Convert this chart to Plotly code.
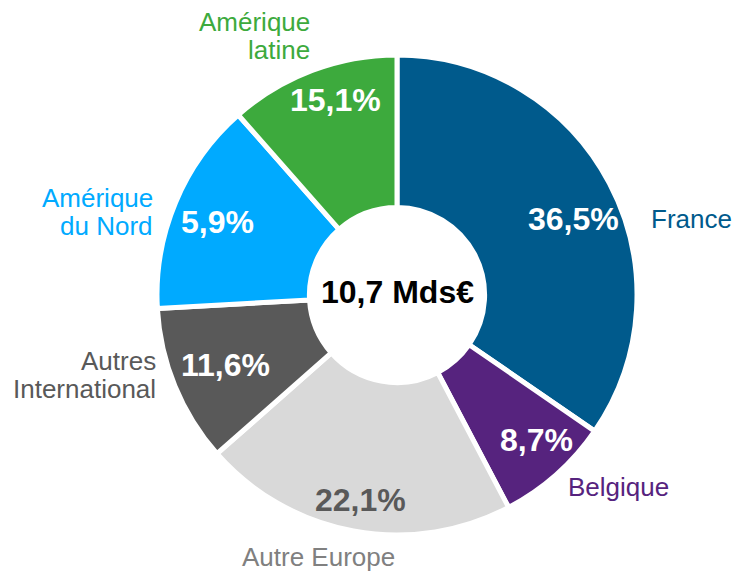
import plotly.graph_objects as go

# Slice sizes as drawn (degrees, converted to %)
regions = ["France", "Belgique", "Autre Europe", "Autres International",
           "Amérique du Nord", "Amérique latine"]
shares = [34.6, 7.7, 21.2, 10.6, 14.4, 11.5]
# Percentages printed on the slices
pct_labels = ["36,5%", "8,7%", "22,1%", "11,6%", "5,9%", "15,1%"]
name_labels = ["France", "Belgique", "Autre Europe", "Autres<br>International",
               "Amérique<br>du Nord", "Amérique<br>latine"]
total_label = "10,7 Mds€"

colors = ["#005A8C", "#56237E", "#D9D9D9", "#595959", "#00AAFF", "#3DAA3D"]
pct_colors = ["white", "white", "#595959", "white", "white", "white"]
name_colors = ["#005A8C", "#56237E", "#808080", "#595959", "#00AAFF", "#3DAA3D"]

W, H = 735, 572
FONT = "Liberation Sans, Arial, sans-serif"


def to_paper(x, y):
    return x / W, 1 - y / H


# pie geometry in pixels
cx, cy, r = 397, 295, 240

fig = go.Figure(go.Pie(
    labels=regions,
    values=shares,
    sort=False,
    direction="clockwise",
    rotation=0,
    hole=0.365,
    textinfo="none",
    hoverinfo="label",
    marker=dict(colors=colors, line=dict(color="white", width=5)),
    domain=dict(x=[(cx - r) / W, (cx + r) / W], y=[1 - (cy + r) / H, 1 - (cy - r) / H]),
    showlegend=False,
))

annotations = []

# percentage labels inside the slices
pct_pos = [(573, 219), (536, 440), (360, 500), (225, 365), (217, 222), (335, 100)]
for txt, col, (x, y) in zip(pct_labels, pct_colors, pct_pos):
    px_, py_ = to_paper(x, y)
    annotations.append(dict(x=px_, y=py_, xref="paper", yref="paper", text="<b>%s</b>" % txt,
                            showarrow=False, xanchor="center", yanchor="middle",
                            font=dict(family=FONT, size=32, color=col)))

# region names outside the ring (anchor x, first line y, xanchor)
name_pos = [(650, 219, "left"), (567, 487, "left"), (318, 557, "center"),
            (157, 361, "right"), (154, 198, "right"), (311, 22, "right")]
for txt, col, (x, y, anchor) in zip(name_labels, name_colors, name_pos):
    for i, line in enumerate(txt.split("<br>")):
        px_, py_ = to_paper(x, y + i * 28)
        annotations.append(dict(x=px_, y=py_, xref="paper", yref="paper", text=line,
                                showarrow=False, xanchor=anchor, yanchor="middle", borderpad=0,
                                font=dict(family=FONT, size=26, color=col)))

# total in the centre
px_, py_ = to_paper(397, 292)
annotations.append(dict(x=px_, y=py_, xref="paper", yref="paper", text="<b>%s</b>" % total_label,
                        showarrow=False, xanchor="center", yanchor="middle",
                        font=dict(family=FONT, size=32, color="black")))

fig.update_layout(
    width=W, height=H,
    margin=dict(l=0, r=0, t=0, b=0),
    paper_bgcolor="white",
    plot_bgcolor="white",
    annotations=annotations,
)

fig.write_html("out.html", config={"displayModeBar": False},
               post_script="document.body.style.margin='0';")
